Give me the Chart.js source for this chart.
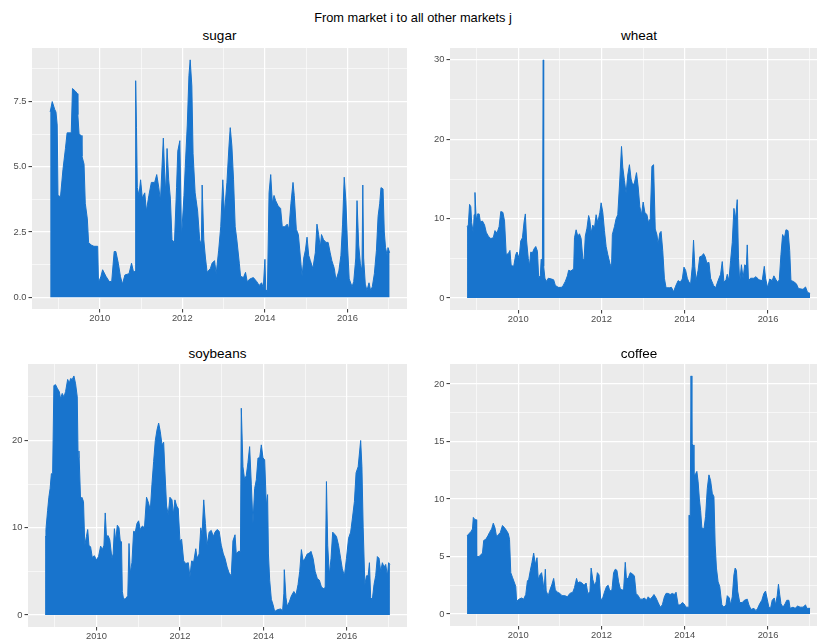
<!DOCTYPE html>
<html>
<head>
<meta charset="utf-8">
<title>From market i to all other markets j</title>
<script src="https://cdn.jsdelivr.net/npm/chart.js@4.4.1/dist/chart.umd.min.js"></script>
<style>
  html, body { margin: 0; padding: 0; background: #fff; overflow: hidden; }
  body { position: relative; width: 817px; height: 640px; font-family: "Liberation Sans", Arial, Helvetica, sans-serif; }
  .title { position: absolute; text-align: center; color: #000; white-space: nowrap; }
  .main { left: 0; width: 826px; top: 10px; font-size: 12.8px; line-height: 15px; }
  .sub { font-size: 13.5px; line-height: 16px; }
  canvas { position: absolute; }
</style>
</head>
<body>
<div class="title main">From market i to all other markets j</div>

<script>
// tick labels
const yearTicks = [2010, 2012, 2014, 2016];
const sugarTicks = [0, 2.5, 5, 7.5];
const wheatTicks = [0, 10, 20, 30];
const soybeansTicks = [0, 10, 20];
const coffeeTicks = [0, 5, 10, 15, 20];

// sugar (decimal years)
const sugarYears = [2008.80,2008.85,2008.91,2008.94,2008.97,2008.99,2009.05,2009.11,2009.17,2009.21,
  2009.31,2009.34,2009.41,2009.46,2009.47,2009.50,2009.55,2009.57,2009.62,2009.65,
  2009.70,2009.73,2009.79,2009.86,2009.95,2009.97,2010.03,2010.07,2010.15,2010.23,
  2010.29,2010.35,2010.39,2010.45,2010.50,2010.55,2010.61,2010.71,2010.77,2010.82,
  2010.86,2010.87,2010.89,2010.91,2010.95,2010.99,2011.03,2011.09,2011.13,2011.19,
  2011.25,2011.33,2011.38,2011.43,2011.47,2011.54,2011.57,2011.60,2011.63,2011.67,
  2011.71,2011.75,2011.81,2011.86,2011.89,2011.94,2011.98,2012.04,2012.08,2012.12,
  2012.16,2012.19,2012.23,2012.26,2012.31,2012.37,2012.42,2012.46,2012.48,2012.52,
  2012.56,2012.60,2012.68,2012.72,2012.78,2012.82,2012.88,2012.93,2012.98,2013.02,
  2013.08,2013.13,2013.16,2013.20,2013.24,2013.28,2013.32,2013.38,2013.41,2013.48,
  2013.53,2013.57,2013.64,2013.72,2013.80,2013.86,2013.92,2013.96,2014.00,2014.02,
  2014.06,2014.10,2014.14,2014.18,2014.22,2014.26,2014.32,2014.38,2014.42,2014.48,
  2014.54,2014.58,2014.63,2014.68,2014.71,2014.76,2014.81,2014.86,2014.90,2014.94,
  2014.98,2015.02,2015.06,2015.10,2015.16,2015.22,2015.26,2015.30,2015.34,2015.37,
  2015.42,2015.48,2015.53,2015.58,2015.62,2015.68,2015.72,2015.79,2015.84,2015.88,
  2015.92,2015.96,2016.00,2016.04,2016.11,2016.15,2016.20,2016.23,2016.27,2016.31,
  2016.35,2016.37,2016.39,2016.43,2016.47,2016.52,2016.56,2016.60,2016.65,2016.70,
  2016.74,2016.78,2016.81,2016.86,2016.89,2016.92,2016.96,2016.98,2017.02];
const sugarValues = [7.1,7.5,7.2,7.1,6.6,3.9,3.85,4.9,5.7,6.3,
  6.3,8.0,7.9,7.8,7.0,6.25,6.2,5.4,5.1,3.6,
  3.0,2.1,2.0,1.95,1.95,0.55,0.8,1.05,0.8,0.6,
  0.6,1.75,1.75,1.3,0.8,0.5,0.85,0.9,1.3,0.95,
  1.0,8.3,6.5,4.2,3.9,4.5,3.8,4.0,3.3,3.9,
  4.4,4.4,4.7,4.2,3.7,6.1,4.8,4.0,5.7,4.5,
  3.8,2.2,2.1,4.2,5.6,6.0,2.3,3.9,5.3,6.6,
  8.5,9.1,8.1,5.5,4.0,3.3,2.2,2.0,4.3,2.2,
  1.5,0.95,1.1,1.3,1.4,0.9,1.8,2.7,4.5,3.2,
  4.4,5.8,6.5,5.8,4.5,2.7,2.2,1.3,0.8,0.75,
  0.95,0.6,0.7,0.75,0.6,0.45,0.55,0.35,1.45,0.3,
  0.2,4.0,4.7,3.6,3.9,3.7,3.5,3.4,2.7,2.7,
  2.8,2.6,3.6,4.4,3.9,2.6,2.4,1.5,0.8,1.5,
  1.8,2.3,1.6,1.4,1.1,1.7,2.8,2.4,1.9,2.4,
  2.2,2.1,2.1,1.7,1.4,1.1,0.65,1.0,1.6,2.8,
  4.6,3.7,2.0,0.7,0.4,0.6,1.5,3.7,2.0,1.3,
  1.0,4.3,1.5,0.5,0.25,0.55,0.25,0.4,0.9,1.8,
  3.1,3.6,4.2,4.15,2.5,1.9,1.6,1.9,1.7];

// wheat
const wheatYears = [2008.77,2008.80,2008.83,2008.86,2008.88,2008.92,2008.94,2008.96,2008.99,2009.02,
  2009.06,2009.09,2009.14,2009.19,2009.23,2009.28,2009.34,2009.40,2009.44,2009.49,
  2009.54,2009.58,2009.63,2009.67,2009.71,2009.76,2009.80,2009.83,2009.89,2009.94,
  2009.97,2010.02,2010.06,2010.10,2010.14,2010.17,2010.20,2010.24,2010.27,2010.30,
  2010.34,2010.38,2010.42,2010.46,2010.49,2010.53,2010.55,2010.58,2010.60,2010.61,
  2010.64,2010.68,2010.72,2010.80,2010.85,2010.89,2010.96,2011.04,2011.08,2011.13,
  2011.18,2011.21,2011.26,2011.31,2011.33,2011.35,2011.39,2011.43,2011.47,2011.51,
  2011.55,2011.58,2011.61,2011.65,2011.69,2011.72,2011.75,2011.79,2011.83,2011.87,
  2011.91,2011.96,2011.99,2012.03,2012.07,2012.11,2012.15,2012.20,2012.24,2012.26,
  2012.31,2012.35,2012.39,2012.44,2012.48,2012.51,2012.55,2012.59,2012.63,2012.67,
  2012.71,2012.75,2012.79,2012.84,2012.88,2012.92,2012.96,2013.00,2013.04,2013.09,
  2013.13,2013.17,2013.21,2013.25,2013.29,2013.33,2013.36,2013.40,2013.43,2013.47,
  2013.51,2013.55,2013.63,2013.68,2013.73,2013.78,2013.84,2013.89,2013.94,2013.98,
  2014.02,2014.06,2014.10,2014.14,2014.18,2014.21,2014.24,2014.27,2014.32,2014.36,
  2014.41,2014.45,2014.49,2014.53,2014.58,2014.62,2014.69,2014.74,2014.80,2014.86,
  2014.90,2014.94,2014.99,2015.02,2015.06,2015.10,2015.14,2015.18,2015.22,2015.26,
  2015.29,2015.32,2015.36,2015.40,2015.44,2015.48,2015.50,2015.53,2015.58,2015.66,
  2015.71,2015.78,2015.86,2015.91,2015.94,2015.99,2016.04,2016.10,2016.14,2016.18,
  2016.23,2016.27,2016.31,2016.35,2016.39,2016.43,2016.48,2016.52,2016.55,2016.61,
  2016.68,2016.73,2016.84,2016.90,2016.95,2017.01];
const wheatValues = [9.0,9.2,11.8,11.5,9.5,8.2,10.5,13.3,9.8,10.6,
  10.6,9.6,9.7,9.2,8.3,7.8,7.5,7.6,8.5,8.2,
  9.0,10.9,10.8,9.7,5.5,5.6,6.0,4.1,4.0,5.5,
  5.8,5.0,7.2,7.6,9.6,10.6,7.2,5.0,4.1,5.8,
  5.7,6.2,6.5,5.9,2.6,2.8,4.9,4.8,30.0,4.0,
  2.5,2.1,2.5,2.4,2.3,1.6,1.35,1.35,1.6,2.1,
  2.8,3.5,3.4,3.6,3.5,7.6,8.6,7.8,8.1,7.5,
  5.0,4.8,7.8,8.8,10.4,9.8,8.2,9.2,8.8,10.5,
  9.5,10.8,12.0,10.8,8.5,6.5,5.5,4.4,3.8,8.0,
  9.0,10.0,10.5,15.0,19.1,16.5,14.8,13.2,15.5,16.8,
  15.0,14.2,14.5,15.8,14.0,11.5,10.5,12.1,10.8,10.5,
  9.5,10.0,16.6,16.8,8.7,8.0,6.8,8.2,8.4,6.0,
  2.5,1.3,1.3,1.35,0.8,1.5,2.2,2.0,2.4,3.9,
  3.5,2.5,2.0,1.8,4.0,7.3,4.0,2.2,3.5,5.2,
  5.3,5.6,5.2,4.4,4.5,2.5,1.6,1.3,2.2,3.0,
  4.6,2.0,2.3,3.0,2.2,4.7,7.0,11.3,10.0,12.4,
  5.0,2.0,4.2,2.5,4.2,4.0,6.7,2.2,2.5,2.5,
  2.7,2.3,2.2,4.0,2.5,1.3,2.4,2.2,2.8,2.4,
  2.0,2.3,5.5,8.0,7.5,8.6,8.5,6.0,2.2,2.1,
  1.8,1.2,1.1,1.4,0.7,0.6];

// soybeans
const soybeansYears = [2008.77,2008.79,2008.83,2008.86,2008.89,2008.92,2008.95,2008.98,2009.02,2009.06,
  2009.11,2009.14,2009.18,2009.22,2009.26,2009.31,2009.35,2009.38,2009.42,2009.46,
  2009.50,2009.54,2009.56,2009.58,2009.62,2009.65,2009.69,2009.72,2009.76,2009.79,
  2009.82,2009.86,2009.90,2009.95,2010.00,2010.05,2010.10,2010.14,2010.18,2010.21,
  2010.24,2010.28,2010.32,2010.37,2010.40,2010.43,2010.46,2010.50,2010.54,2010.57,
  2010.60,2010.62,2010.65,2010.70,2010.75,2010.78,2010.81,2010.85,2010.89,2010.93,
  2010.97,2011.01,2011.05,2011.10,2011.15,2011.20,2011.25,2011.29,2011.33,2011.37,
  2011.41,2011.45,2011.49,2011.53,2011.57,2011.61,2011.64,2011.68,2011.72,2011.76,
  2011.81,2011.84,2011.88,2011.92,2011.96,2012.00,2012.04,2012.09,2012.14,2012.20,
  2012.24,2012.28,2012.33,2012.38,2012.41,2012.46,2012.50,2012.53,2012.57,2012.61,
  2012.65,2012.70,2012.75,2012.80,2012.84,2012.89,2012.94,2012.99,2013.04,2013.08,
  2013.13,2013.18,2013.23,2013.27,2013.32,2013.35,2013.40,2013.45,2013.47,2013.51,
  2013.55,2013.59,2013.63,2013.67,2013.71,2013.75,2013.79,2013.83,2013.87,2013.91,
  2013.95,2013.99,2014.03,2014.07,2014.10,2014.12,2014.15,2014.19,2014.23,2014.27,
  2014.33,2014.41,2014.46,2014.49,2014.50,2014.54,2014.57,2014.62,2014.67,2014.73,
  2014.78,2014.83,2014.87,2014.91,2014.95,2015.00,2015.05,2015.10,2015.14,2015.19,
  2015.24,2015.29,2015.34,2015.39,2015.45,2015.48,2015.51,2015.54,2015.58,2015.62,
  2015.66,2015.70,2015.75,2015.80,2015.85,2015.89,2015.94,2015.99,2016.04,2016.09,
  2016.13,2016.18,2016.22,2016.27,2016.33,2016.36,2016.39,2016.43,2016.47,2016.51,
  2016.54,2016.57,2016.61,2016.65,2016.69,2016.73,2016.77,2016.81,2016.85,2016.89,
  2016.93,2016.97,2017.00,2017.03];
const soybeansValues = [9.0,9.8,12.0,13.5,14.5,16.2,16.2,26.3,26.4,26.0,
  25.6,24.8,25.4,25.0,25.6,27.0,26.6,27.1,27.0,27.4,
  26.5,25.0,18.0,18.8,13.2,13.5,13.0,8.0,9.0,9.8,
  8.0,7.8,6.6,6.8,6.3,6.7,7.9,7.5,8.0,11.7,
  9.0,9.1,8.6,6.5,7.0,9.9,8.5,10.3,10.0,8.5,
  8.4,2.7,1.8,1.9,2.2,8.2,4.8,6.0,9.6,9.5,
  10.5,10.8,9.8,10.2,10.0,13.5,12.8,12.0,15.0,17.6,
  20.0,21.2,22.0,21.0,19.5,19.8,16.5,12.5,11.5,13.5,
  13.2,11.5,13.2,12.5,12.2,8.5,8.7,6.2,5.9,6.0,
  4.4,6.2,6.1,7.6,6.5,7.0,10.0,9.2,13.2,10.5,
  8.0,9.5,9.7,9.0,9.5,9.8,9.6,8.0,7.0,6.5,
  5.5,4.8,4.5,8.5,9.2,7.0,7.3,7.3,23.7,17.0,
  15.5,16.0,17.5,19.3,15.0,10.5,14.5,15.5,18.0,18.0,
  19.5,18.0,17.8,12.5,13.8,7.0,4.0,1.8,1.2,0.4,
  0.6,0.7,0.5,2.5,5.2,2.0,1.0,1.5,2.2,2.7,
  2.3,3.5,5.0,7.5,6.2,6.5,7.0,7.1,7.3,6.5,
  5.0,4.2,4.0,3.2,3.0,3.2,15.3,8.0,4.6,6.5,
  9.5,9.3,9.0,8.0,6.5,5.3,4.5,6.5,8.8,9.5,
  11.0,13.0,16.3,17.0,20.0,17.0,10.0,3.5,4.5,4.5,
  6.0,2.0,1.8,3.5,4.5,6.7,6.5,5.0,6.0,5.5,
  5.8,4.5,6.0,5.8];

// coffee
const coffeeYears = [2008.77,2008.82,2008.87,2008.90,2008.92,2008.96,2008.99,2009.00,2009.06,2009.11,
  2009.14,2009.17,2009.22,2009.27,2009.31,2009.36,2009.40,2009.44,2009.48,2009.52,
  2009.57,2009.62,2009.67,2009.71,2009.76,2009.79,2009.82,2009.86,2009.90,2009.94,
  2009.96,2010.02,2010.08,2010.13,2010.18,2010.22,2010.25,2010.29,2010.33,2010.37,
  2010.41,2010.45,2010.48,2010.52,2010.56,2010.59,2010.62,2010.65,2010.67,2010.72,
  2010.76,2010.81,2010.85,2010.89,2010.94,2011.00,2011.05,2011.12,2011.18,2011.24,
  2011.31,2011.35,2011.40,2011.43,2011.48,2011.53,2011.58,2011.63,2011.67,2011.72,
  2011.75,2011.79,2011.83,2011.87,2011.90,2011.94,2011.98,2012.02,2012.07,2012.12,
  2012.16,2012.20,2012.25,2012.29,2012.33,2012.37,2012.41,2012.45,2012.49,2012.53,
  2012.57,2012.60,2012.65,2012.69,2012.74,2012.79,2012.83,2012.88,2012.93,2012.98,
  2013.03,2013.08,2013.12,2013.17,2013.22,2013.26,2013.31,2013.36,2013.41,2013.46,
  2013.51,2013.55,2013.60,2013.65,2013.70,2013.75,2013.79,2013.84,2013.89,2013.94,
  2013.98,2014.03,2014.08,2014.10,2014.13,2014.15,2014.17,2014.20,2014.22,2014.26,
  2014.29,2014.32,2014.35,2014.38,2014.41,2014.46,2014.50,2014.54,2014.58,2014.62,
  2014.66,2014.70,2014.73,2014.76,2014.80,2014.84,2014.89,2014.94,2014.99,2015.02,
  2015.07,2015.10,2015.14,2015.18,2015.21,2015.24,2015.27,2015.32,2015.38,2015.43,
  2015.50,2015.54,2015.59,2015.66,2015.71,2015.75,2015.80,2015.85,2015.90,2015.94,
  2015.98,2016.02,2016.06,2016.10,2016.15,2016.18,2016.22,2016.25,2016.28,2016.31,
  2016.36,2016.41,2016.45,2016.50,2016.53,2016.60,2016.65,2016.71,2016.77,2016.84,
  2016.90,2016.93,2017.01];
const coffeeValues = [6.8,7.0,7.2,7.4,8.4,8.2,8.2,5.0,5.0,5.2,
  5.3,6.4,6.5,6.8,7.1,7.4,7.9,7.5,6.7,6.9,
  7.1,7.7,7.5,7.3,7.0,6.5,3.6,3.2,2.8,2.4,
  1.1,1.3,1.4,1.3,1.7,2.9,3.0,3.8,4.5,5.3,
  4.3,4.9,3.0,3.4,3.6,2.9,2.0,3.9,2.0,1.6,
  2.1,2.6,3.1,2.1,1.9,1.8,1.6,1.6,1.5,1.8,
  1.9,2.3,3.1,2.7,2.8,2.7,2.5,2.7,1.8,1.9,
  4.0,3.0,2.5,2.8,3.6,3.4,1.3,1.3,1.9,2.4,
  2.5,2.0,2.1,3.6,3.9,3.8,2.8,2.2,2.1,2.1,
  4.5,3.0,3.2,3.6,3.5,3.3,1.8,1.6,1.3,1.3,
  1.4,1.2,1.5,1.3,1.5,1.7,1.4,1.0,0.6,0.8,
  1.5,1.8,1.8,1.7,1.8,1.7,1.9,0.8,0.8,1.0,
  0.9,0.6,0.6,8.6,8.5,20.7,14.8,14.7,12.0,12.2,
  12.4,11.5,10.0,9.0,7.5,7.4,8.5,10.9,12.1,11.6,
  10.5,10.2,6.0,4.0,2.8,2.4,0.8,0.6,0.8,1.6,
  1.4,0.8,1.5,3.4,4.0,3.8,2.0,1.0,1.0,1.2,
  1.3,0.8,0.4,0.5,0.3,0.5,0.9,1.2,1.8,2.0,
  1.3,0.6,0.5,1.2,1.4,0.8,1.6,2.6,1.7,0.9,
  0.6,0.9,1.2,1.2,0.5,0.6,0.5,0.7,0.6,0.6,
  0.8,0.5,0.5];

const BLUE = '#1874CD';
const X_MIN = 2008.36, X_MAX = 2017.44;

// grey panel background like ggplot
const panelBg = {
  id: 'panelBg',
  beforeDraw(chart) {
    const a = chart.chartArea, ctx = chart.ctx;
    ctx.save();
    ctx.fillStyle = '#EBEBEB';
    ctx.fillRect(a.left, a.top, a.right - a.left, a.bottom - a.top);
    ctx.restore();
  }
};

// add the minor breaks halfway between the labelled ones
function withMinor(major, lo, hi) {
  const step = major[1] - major[0];
  const all = [];
  for (let v = major[0] - step; v <= major[major.length - 1] + step; v += step / 2) {
    if (v >= lo && v <= hi) all.push(+v.toFixed(4));
  }
  return all;
}

function makePanel(name, box, years, values, ticks, digits) {
  const top = max => max * 1.05;
  const vmax = Math.max(...values);
  const yMin = -vmax * 0.05, yMax = top(vmax);

  const t = document.createElement('div');
  t.className = 'title sub';
  t.textContent = name;
  t.style.left = box.L + 'px';
  t.style.width = (box.R - box.L) + 'px';
  t.style.top = box.titleTop + 'px';
  document.body.appendChild(t);

  const cv = document.createElement('canvas');
  cv.width = box.R - box.L + 44;
  cv.height = box.B - box.T + 32;
  cv.style.left = (box.L - 40) + 'px';
  cv.style.top = (box.T - 10) + 'px';
  document.body.appendChild(cv);

  const xAll = withMinor(yearTicks, X_MIN, X_MAX);
  const yAll = withMinor(ticks, yMin, yMax);
  const isMajX = v => yearTicks.includes(v);
  const isMajY = v => ticks.includes(v);

  const axisFont = { family: '"Liberation Sans", Arial, sans-serif', size: 9.4 };

  new Chart(cv, {
    type: 'line',
    data: {
      datasets: [{
        data: years.map((x, i) => ({ x: x, y: values[i] })),
        borderColor: BLUE,
        backgroundColor: BLUE,
        borderWidth: 1,
        fill: 'origin',
        pointRadius: 0,
        tension: 0
      }]
    },
    options: {
      responsive: false,
      animation: false,
      devicePixelRatio: 1,
      events: [],
      layout: { padding: { top: 10, right: 4, left: 0, bottom: 0 } },
      plugins: { legend: { display: false }, tooltip: { enabled: false }, title: { display: false } },
      scales: {
        x: {
          type: 'linear', min: X_MIN, max: X_MAX,
          afterBuildTicks: s => { s.ticks = xAll.map(v => ({ value: v })); },
          afterFit: s => { s.height = 22; },
          border: { display: false },
          grid: {
            color: '#FFFFFF',
            lineWidth: c => (c.tick && isMajX(c.tick.value)) ? 1.2 : 0.6,
            drawTicks: true, tickLength: 3.5,
            tickColor: c => (c.tick && isMajX(c.tick.value)) ? '#333333' : 'rgba(0,0,0,0)',
            tickWidth: 1
          },
          ticks: {
            autoSkip: false, maxRotation: 0, padding: 0,
            color: '#4D4D4D', font: axisFont,
            callback: v => isMajX(v) ? String(v) : ''
          }
        },
        y: {
          type: 'linear', min: yMin, max: yMax,
          afterBuildTicks: s => { s.ticks = yAll.map(v => ({ value: v })); },
          afterFit: s => { s.width = 40; },
          border: { display: false },
          grid: {
            color: '#FFFFFF',
            lineWidth: c => (c.tick && isMajY(c.tick.value)) ? 1.2 : 0.6,
            drawTicks: true, tickLength: 3.5,
            tickColor: c => (c.tick && isMajY(c.tick.value)) ? '#333333' : 'rgba(0,0,0,0)',
            tickWidth: 1
          },
          ticks: {
            autoSkip: false, padding: 2,
            color: '#4D4D4D', font: axisFont,
            callback: v => isMajY(v) ? v.toFixed(digits) : ''
          }
        }
      }
    },
    plugins: [panelBg]
  });
}

makePanel('sugar', { L: 32, R: 407, T: 48, B: 309, titleTop: 27.5 }, sugarYears, sugarValues, sugarTicks, 1);
makePanel('wheat', { L: 450, R: 828, T: 48, B: 310, titleTop: 27.5 }, wheatYears, wheatValues, wheatTicks, 0);
makePanel('soybeans', { L: 28, R: 407, T: 364, B: 627, titleTop: 346 }, soybeansYears, soybeansValues, soybeansTicks, 0);
makePanel('coffee', { L: 450, R: 828, T: 364, B: 626, titleTop: 346 }, coffeeYears, coffeeValues, coffeeTicks, 0);
</script>
</body>
</html>
